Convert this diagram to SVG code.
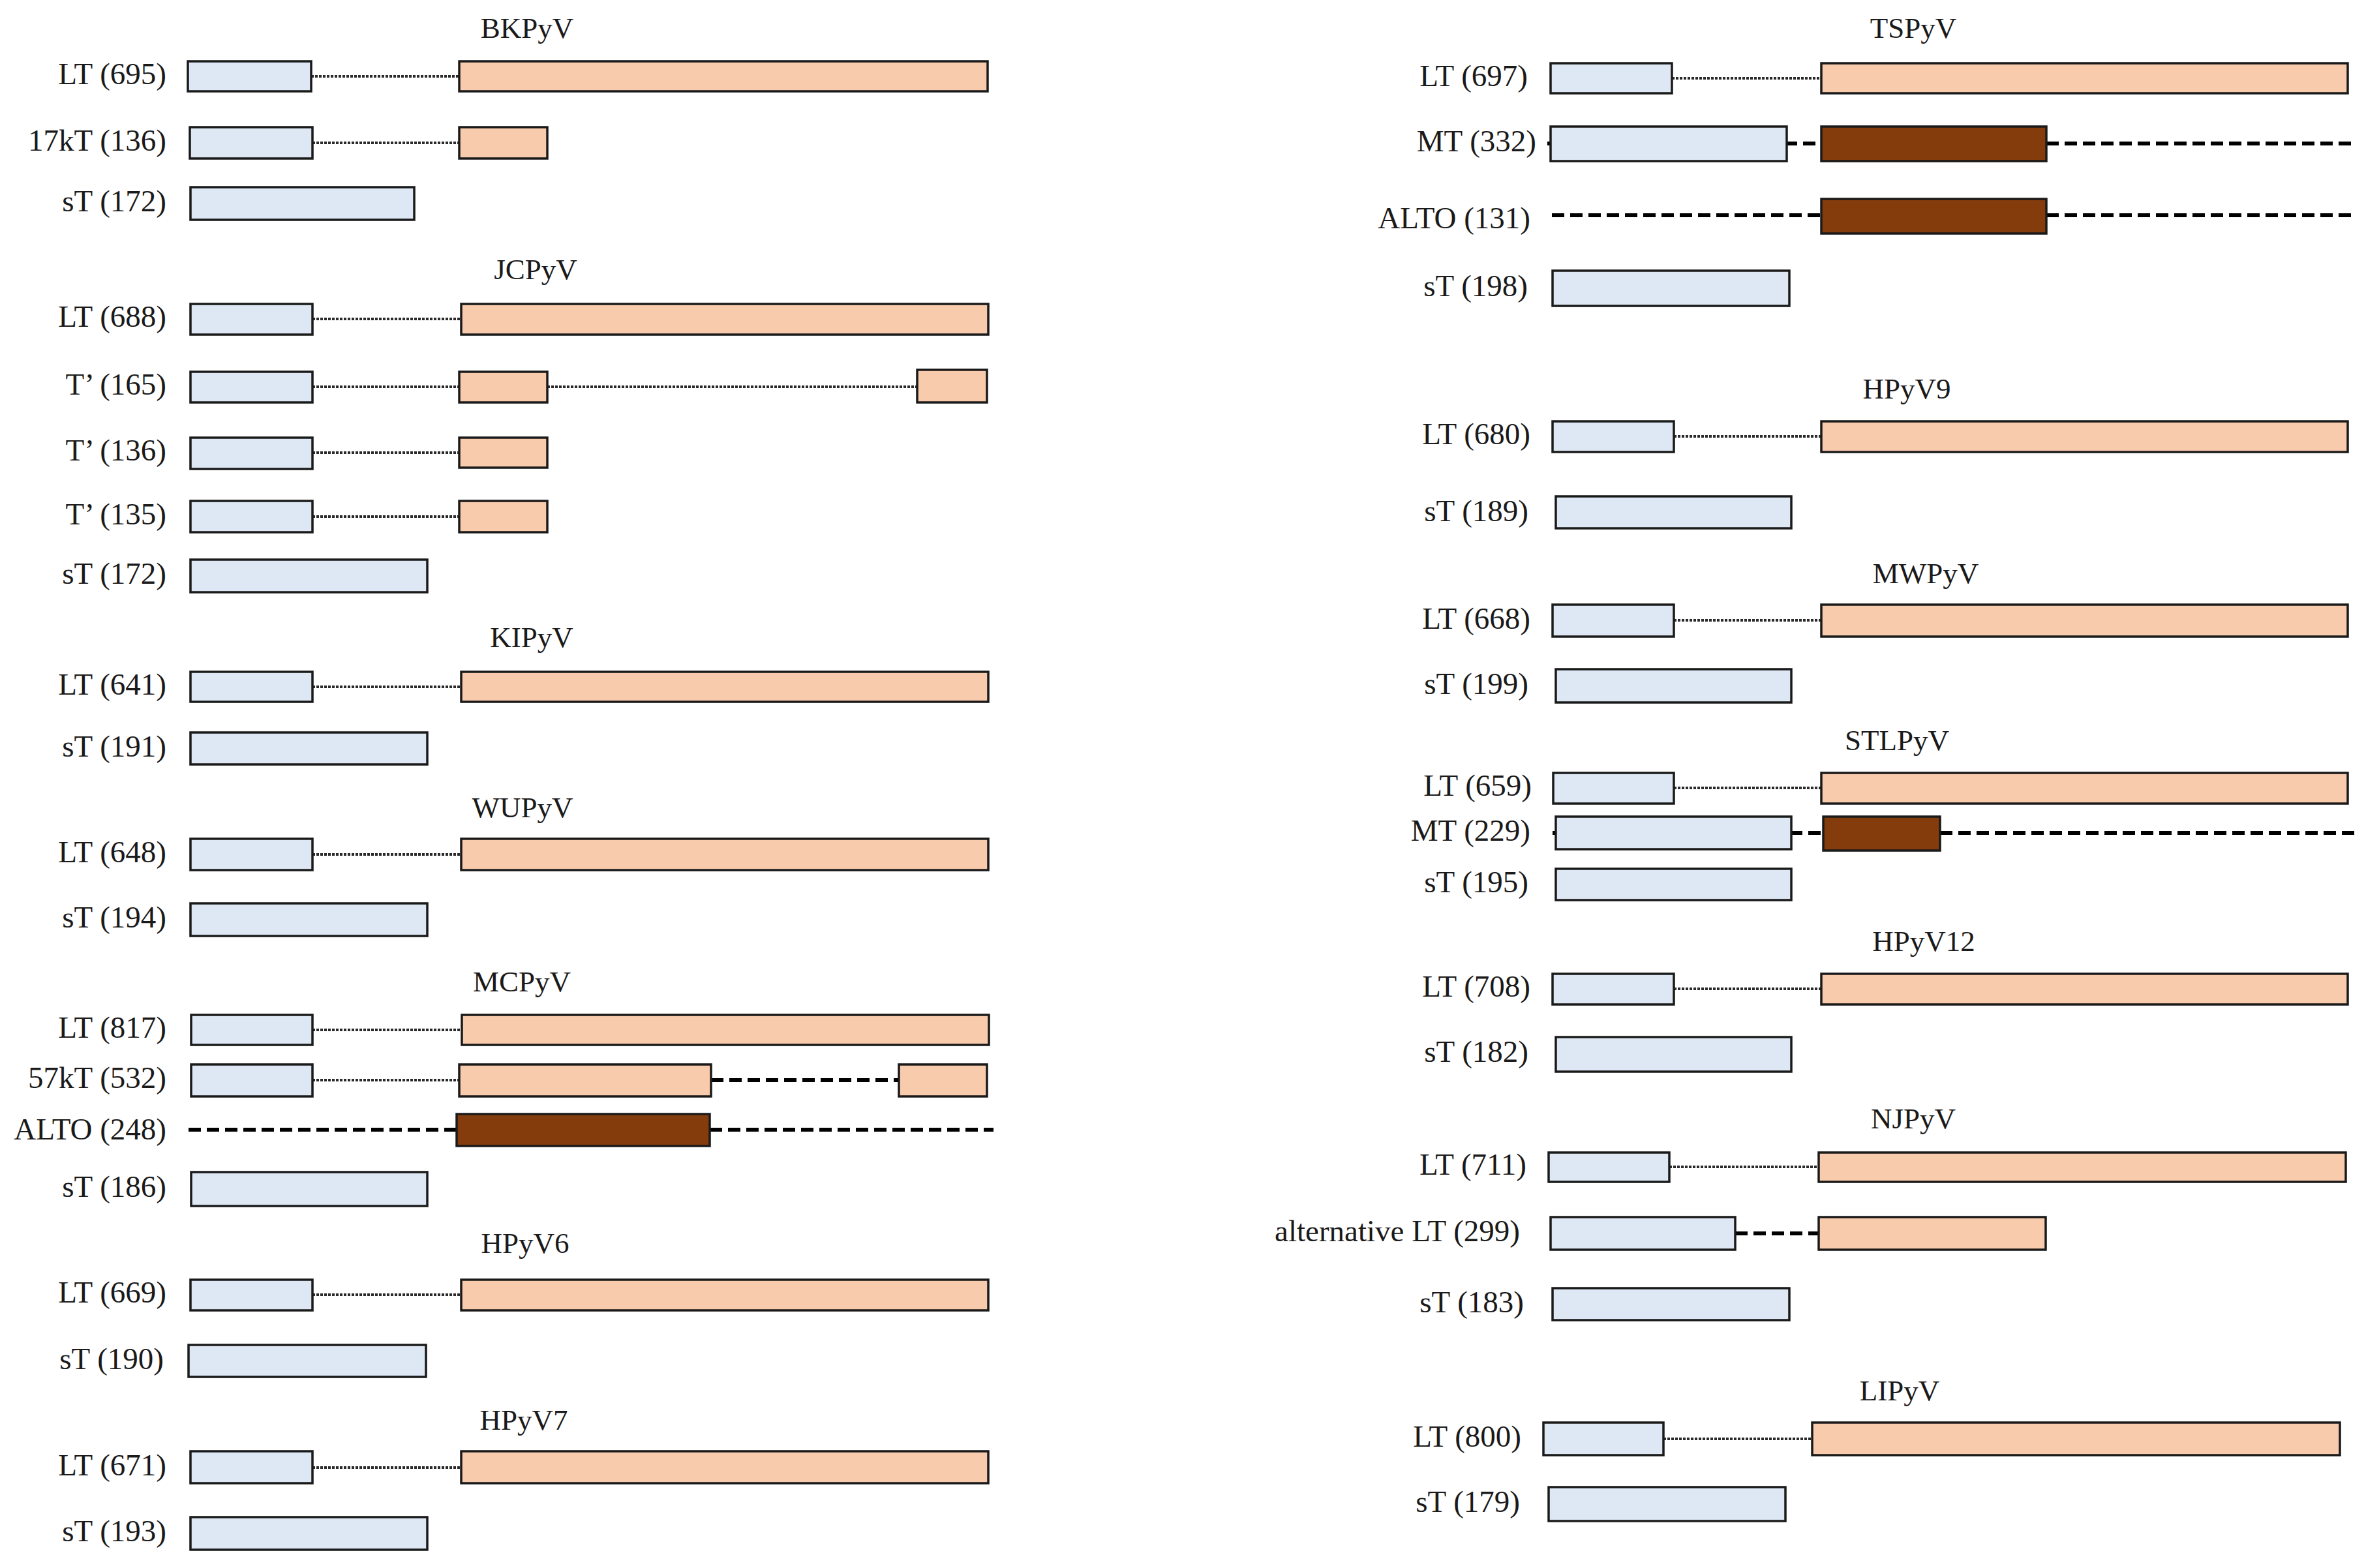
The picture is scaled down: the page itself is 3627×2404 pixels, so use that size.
<svg xmlns="http://www.w3.org/2000/svg" width="3627" height="2404" viewBox="0 0 3627 2404">
<style>
text{font-family:"Liberation Serif","DejaVu Serif",serif;font-size:47px;fill:#1a1a1a}
.t{text-anchor:middle;font-size:45px}
.l{text-anchor:end}
.b{fill:#dee8f4;stroke:#1a1a1a;stroke-width:3.5}
.o{fill:#f8cbad;stroke:#1a1a1a;stroke-width:3.5}
.r{fill:#843c0c;stroke:#1a1a1a;stroke-width:3.5}
.dot{stroke:#2a2a2a;stroke-width:4;stroke-dasharray:4 2;fill:none}
.dash{stroke:#000;stroke-width:6;stroke-dasharray:19 9;fill:none}
</style>
<rect width="3627" height="2404" fill="#ffffff"/>

<g id="titles">
<text class="t" x="808" y="58">BKPyV</text>
<text class="t" x="821" y="428">JCPyV</text>
<text class="t" x="815" y="992">KIPyV</text>
<text class="t" x="801" y="1253">WUPyV</text>
<text class="t" x="800" y="1520">MCPyV</text>
<text class="t" x="805" y="1921">HPyV6</text>
<text class="t" x="803" y="2192">HPyV7</text>
<text class="t" x="2933" y="58">TSPyV</text>
<text class="t" x="2923" y="611">HPyV9</text>
<text class="t" x="2952" y="894">MWPyV</text>
<text class="t" x="2908" y="1150">STLPyV</text>
<text class="t" x="2949" y="1458">HPyV12</text>
<text class="t" x="2933" y="1730">NJPyV</text>
<text class="t" x="2912" y="2147">LIPyV</text>
</g>

<g id="connectors">
<!-- thin dotted splice connectors -->
<line class="dot" x1="477" y1="117" x2="704" y2="117"/>
<line class="dot" x1="479" y1="219" x2="704" y2="219"/>
<line class="dot" x1="479" y1="489" x2="707" y2="489"/>
<line class="dot" x1="479" y1="593" x2="704" y2="593"/>
<line class="dot" x1="839" y1="593" x2="1406" y2="593"/>
<line class="dot" x1="479" y1="694" x2="704" y2="694"/>
<line class="dot" x1="479" y1="792" x2="704" y2="792"/>
<line class="dot" x1="479" y1="1053" x2="707" y2="1053"/>
<line class="dot" x1="479" y1="1310" x2="707" y2="1310"/>
<line class="dot" x1="479" y1="1579" x2="708" y2="1579"/>
<line class="dot" x1="479" y1="1656" x2="704" y2="1656"/>
<line class="dot" x1="479" y1="1985" x2="707" y2="1985"/>
<line class="dot" x1="479" y1="2250" x2="707" y2="2250"/>
<line class="dot" x1="2563" y1="120" x2="2792" y2="120"/>
<line class="dot" x1="2566" y1="669" x2="2792" y2="669"/>
<line class="dot" x1="2566" y1="951" x2="2792" y2="951"/>
<line class="dot" x1="2566" y1="1208" x2="2792" y2="1208"/>
<line class="dot" x1="2566" y1="1516" x2="2792" y2="1516"/>
<line class="dot" x1="2559" y1="1789" x2="2788" y2="1789"/>
<line class="dot" x1="2550" y1="2206" x2="2778" y2="2206"/>
<!-- thick dashed frame connectors -->
<line class="dash" x1="1090" y1="1656" x2="1378" y2="1656"/>
<line class="dash" x1="289" y1="1732" x2="700" y2="1732"/>
<line class="dash" x1="1088" y1="1732" x2="1523" y2="1732"/>
<line class="dash" x1="2372" y1="220" x2="2792" y2="220"/>
<line class="dash" x1="3137" y1="220" x2="3605" y2="220"/>
<line class="dash" x1="2379" y1="330" x2="2792" y2="330"/>
<line class="dash" x1="3137" y1="330" x2="3613" y2="330"/>
<line class="dash" x1="2380" y1="1277" x2="2795" y2="1277"/>
<line class="dash" x1="2974" y1="1277" x2="3613" y2="1277"/>
<line class="dash" x1="2660" y1="1891" x2="2788" y2="1891"/>
</g>

<!-- BKPyV -->
<g id="bk-lt"><text class="l" x="255" y="129">LT (695)</text><rect class="b" x="288" y="94" width="189" height="46"/><rect class="o" x="704" y="94" width="810" height="46"/></g>
<g id="bk-17kt"><text class="l" x="255" y="231">17kT (136)</text><rect class="b" x="291" y="195" width="188" height="48"/><rect class="o" x="704" y="195" width="135" height="48"/></g>
<g id="bk-st"><text class="l" x="255" y="324">sT (172)</text><rect class="b" x="292" y="287" width="343" height="50"/></g>

<!-- JCPyV -->
<g id="jc-lt"><text class="l" x="255" y="501">LT (688)</text><rect class="b" x="292" y="466" width="187" height="47"/><rect class="o" x="707" y="466" width="808" height="47"/></g>
<g id="jc-t165"><text class="l" x="255" y="605">T’ (165)</text><rect class="b" x="292" y="570" width="187" height="47"/><rect class="o" x="704" y="570" width="135" height="47"/><rect class="o" x="1406" y="567" width="107" height="50"/></g>
<g id="jc-t136"><text class="l" x="255" y="706">T’ (136)</text><rect class="b" x="292" y="671" width="187" height="48"/><rect class="o" x="704" y="671" width="135" height="46"/></g>
<g id="jc-t135"><text class="l" x="255" y="804">T’ (135)</text><rect class="b" x="292" y="768" width="187" height="48"/><rect class="o" x="704" y="768" width="135" height="48"/></g>
<g id="jc-st"><text class="l" x="255" y="895">sT (172)</text><rect class="b" x="292" y="858" width="363" height="50"/></g>

<!-- KIPyV -->
<g id="ki-lt"><text class="l" x="255" y="1065">LT (641)</text><rect class="b" x="292" y="1030" width="187" height="46"/><rect class="o" x="707" y="1030" width="808" height="46"/></g>
<g id="ki-st"><text class="l" x="255" y="1160">sT (191)</text><rect class="b" x="292" y="1123" width="363" height="49"/></g>

<!-- WUPyV -->
<g id="wu-lt"><text class="l" x="255" y="1322">LT (648)</text><rect class="b" x="292" y="1286" width="187" height="48"/><rect class="o" x="707" y="1286" width="808" height="48"/></g>
<g id="wu-st"><text class="l" x="255" y="1422">sT (194)</text><rect class="b" x="292" y="1385" width="363" height="50"/></g>

<!-- MCPyV -->
<g id="mc-lt"><text class="l" x="255" y="1591">LT (817)</text><rect class="b" x="293" y="1556" width="186" height="46"/><rect class="o" x="708" y="1556" width="808" height="46"/></g>
<g id="mc-57kt"><text class="l" x="255" y="1668">57kT (532)</text><rect class="b" x="293" y="1632" width="186" height="49"/><rect class="o" x="704" y="1632" width="386" height="49"/><rect class="o" x="1378" y="1632" width="135" height="49"/></g>
<g id="mc-alto"><text class="l" x="255" y="1747">ALTO (248)</text><rect class="r" x="700" y="1708" width="388" height="49"/></g>
<g id="mc-st"><text class="l" x="255" y="1835">sT (186)</text><rect class="b" x="293" y="1797" width="362" height="52"/></g>

<!-- HPyV6 -->
<g id="h6-lt"><text class="l" x="255" y="1997">LT (669)</text><rect class="b" x="292" y="1962" width="187" height="47"/><rect class="o" x="707" y="1962" width="808" height="47"/></g>
<g id="h6-st"><text class="l" x="251" y="2099">sT (190)</text><rect class="b" x="289" y="2062" width="364" height="49"/></g>

<!-- HPyV7 -->
<g id="h7-lt"><text class="l" x="255" y="2262">LT (671)</text><rect class="b" x="292" y="2225" width="187" height="49"/><rect class="o" x="707" y="2225" width="808" height="49"/></g>
<g id="h7-st"><text class="l" x="255" y="2363">sT (193)</text><rect class="b" x="292" y="2326" width="363" height="50"/></g>

<!-- TSPyV -->
<g id="ts-lt"><text class="l" x="2342" y="132">LT (697)</text><rect class="b" x="2377" y="97" width="186" height="46"/><rect class="o" x="2792" y="97" width="807" height="46"/></g>
<g id="ts-mt"><text class="l" x="2355" y="232">MT (332)</text><rect class="b" x="2377" y="194" width="362" height="53"/><rect class="r" x="2792" y="194" width="345" height="53"/></g>
<g id="ts-alto"><text class="l" x="2346" y="350">ALTO (131)</text><rect class="r" x="2792" y="305" width="345" height="53"/></g>
<g id="ts-st"><text class="l" x="2342" y="454">sT (198)</text><rect class="b" x="2380" y="415" width="363" height="54"/></g>

<!-- HPyV9 -->
<g id="h9-lt"><text class="l" x="2346" y="681">LT (680)</text><rect class="b" x="2380" y="646" width="186" height="47"/><rect class="o" x="2792" y="646" width="807" height="47"/></g>
<g id="h9-st"><text class="l" x="2343" y="799">sT (189)</text><rect class="b" x="2385" y="761" width="361" height="49"/></g>

<!-- MWPyV -->
<g id="mw-lt"><text class="l" x="2346" y="964">LT (668)</text><rect class="b" x="2380" y="927" width="186" height="49"/><rect class="o" x="2792" y="927" width="807" height="49"/></g>
<g id="mw-st"><text class="l" x="2343" y="1064">sT (199)</text><rect class="b" x="2385" y="1026" width="361" height="51"/></g>

<!-- STLPyV -->
<g id="stl-lt"><text class="l" x="2348" y="1220">LT (659)</text><rect class="b" x="2381" y="1185" width="185" height="47"/><rect class="o" x="2792" y="1185" width="807" height="47"/></g>
<g id="stl-mt"><text class="l" x="2346" y="1289">MT (229)</text><rect class="b" x="2385" y="1252" width="361" height="50"/><rect class="r" x="2795" y="1252" width="179" height="52"/></g>
<g id="stl-st"><text class="l" x="2343" y="1368">sT (195)</text><rect class="b" x="2385" y="1332" width="361" height="48"/></g>

<!-- HPyV12 -->
<g id="h12-lt"><text class="l" x="2346" y="1528">LT (708)</text><rect class="b" x="2380" y="1493" width="186" height="47"/><rect class="o" x="2792" y="1493" width="807" height="47"/></g>
<g id="h12-st"><text class="l" x="2343" y="1628">sT (182)</text><rect class="b" x="2385" y="1590" width="361" height="53"/></g>

<!-- NJPyV -->
<g id="nj-lt"><text class="l" x="2340" y="1801">LT (711)</text><rect class="b" x="2374" y="1767" width="185" height="45"/><rect class="o" x="2788" y="1767" width="808" height="45"/></g>
<g id="nj-alt"><text class="l" x="2330" y="1903">alternative LT (299)</text><rect class="b" x="2377" y="1866" width="283" height="50"/><rect class="o" x="2788" y="1866" width="348" height="50"/></g>
<g id="nj-st"><text class="l" x="2336" y="2012">sT (183)</text><rect class="b" x="2380" y="1975" width="363" height="49"/></g>

<!-- LIPyV -->
<g id="li-lt"><text class="l" x="2332" y="2218">LT (800)</text><rect class="b" x="2366" y="2181" width="184" height="50"/><rect class="o" x="2778" y="2181" width="809" height="50"/></g>
<g id="li-st"><text class="l" x="2330" y="2318">sT (179)</text><rect class="b" x="2374" y="2280" width="363" height="52"/></g>
</svg>
